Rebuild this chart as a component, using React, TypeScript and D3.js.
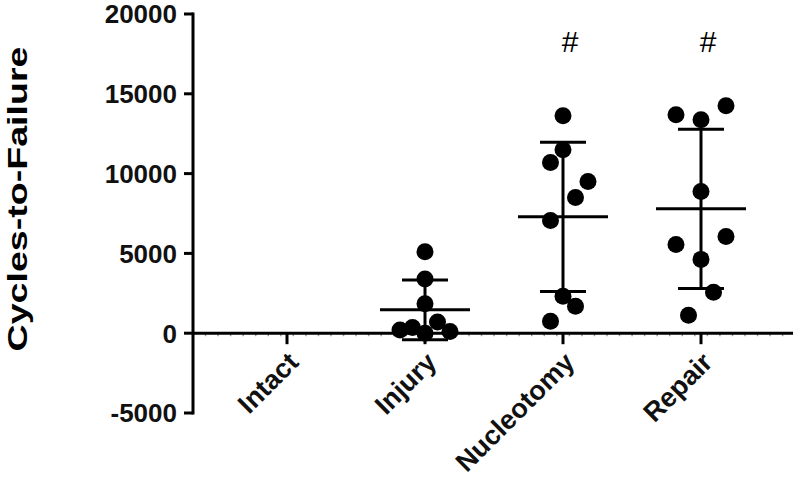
import React from "react";
import * as d3 from "d3";

const categories = ["Intact", "Injury", "Nucleotomy", "Repair"];

// cycles-to-failure per specimen
const intact: number[] = [];
const injury = [5100, 3400, 1850, 700, 350, 200, 100, 0];
const nucleotomy = [13625, 11500, 10690, 9500, 8500, 7060, 2310, 1690, 750];
const repair = [14250, 13690, 13375, 8875, 6060, 5560, 4625, 2560, 1125];

// scatter lane of each dot (Prism column scatter)
const intactLane: number[] = [];
const injuryLane = [0, 0, 0, 1, -1, -2, 2, 0];
const nucleotomyLane = [0, 0, -1, 2, 1, -1, 0, 1, -1];
const repairLane = [2, -2, 0, 0, 2, -2, 0, 1, -1];

const significance = ["", "", "#", "#"];
const yTicks = [-5000, 0, 5000, 10000, 15000, 20000];

const groups = [
  { name: categories[0], values: intact, lanes: intactLane, mark: significance[0] },
  { name: categories[1], values: injury, lanes: injuryLane, mark: significance[1] },
  { name: categories[2], values: nucleotomy, lanes: nucleotomyLane, mark: significance[2] },
  { name: categories[3], values: repair, lanes: repairLane, mark: significance[3] },
];

const font = "'Liberation Sans', Arial, Helvetica, sans-serif";

export default function App() {
  const width = 800;
  const height = 493;
  const axisX = 193;
  const axisEnd = 793;
  const radius = 8.5;
  const laneWidth = 12.5;

  const y = d3.scaleLinear().domain([-5000, 20000]).range([413, 14]);
  const x = d3.scalePoint<string>().domain(categories).range([287, 701]);
  const step = x.step();
  const y0 = y(0);

  const minorTicks = d3.range(axisX + step / 11, axisEnd, step / 11);

  return (
    <div style={{ position: "absolute", left: 0, top: 0 }}>
      <svg width={width} height={height} style={{ display: "block", background: "#fff" }}>
        {/* y axis title */}
        <text
          transform={`translate(27,${(14 + 360) / 2 + 12}) rotate(-90)`}
          textAnchor="middle"
          fontFamily={font}
          fontWeight="bold"
          fontSize={28}
          textLength={305}
          lengthAdjust="spacingAndGlyphs"
          fill="#000"
        >
          Cycles-to-Failure
        </text>

        {/* y axis */}
        <line x1={axisX} x2={axisX} y1={y(20000) - 1.5} y2={y(-5000) + 1.5} stroke="#000" strokeWidth={3} />
        {yTicks.map((t) => (
          <g key={t}>
            <line x1={axisX - 9} x2={axisX} y1={y(t)} y2={y(t)} stroke="#000" strokeWidth={3} />
            <text
              x={axisX - 16}
              y={y(t)}
              dy="0.36em"
              textAnchor="end"
              fontFamily={font}
              fontSize={26}
              fontWeight="bold"
              fill="#111"
            >
              {t}
            </text>
          </g>
        ))}

        {/* x axis at zero */}
        {minorTicks.map((m, i) => (
          <line key={i} x1={m} x2={m} y1={y0} y2={y0 + 3} stroke="#999" strokeWidth={1.5} />
        ))}
        <line x1={axisX} x2={axisEnd} y1={y0} y2={y0} stroke="#000" strokeWidth={3} />
        {categories.map((c) => (
          <g key={c}>
            <line x1={x(c)} x2={x(c)} y1={y0} y2={y0 + 11} stroke="#000" strokeWidth={3} />
            <text
              transform={`translate(${(x(c) as number) + 13},${364}) rotate(-45)`}
              textAnchor="end"
              fontFamily={font}
              fontSize={27}
              fontWeight="bold"
              fill="#111"
            >
              {c}
            </text>
          </g>
        ))}

        {/* dots, mean and SD */}
        {groups.map((g) => {
          const cx = x(g.name) as number;
          if (g.values.length === 0) return null;
          const mean = d3.mean(g.values) as number;
          const sd = d3.deviation(g.values) as number;
          return (
            <g key={g.name}>
              {g.values.map((v, i) => (
                <circle key={i} cx={cx + g.lanes[i] * laneWidth} cy={y(v)} r={radius} fill="#000" />
              ))}
              <line x1={cx} x2={cx} y1={y(mean + sd)} y2={y(mean - sd)} stroke="#000" strokeWidth={3} />
              <line x1={cx - 45} x2={cx + 45} y1={y(mean)} y2={y(mean)} stroke="#000" strokeWidth={3} />
              <line x1={cx - 23} x2={cx + 23} y1={y(mean + sd)} y2={y(mean + sd)} stroke="#000" strokeWidth={3} />
              <line x1={cx - 23} x2={cx + 23} y1={y(mean - sd)} y2={y(mean - sd)} stroke="#000" strokeWidth={3} />
            </g>
          );
        })}

        {/* significance marks */}
        {groups.map((g) =>
          g.mark ? (
            <text
              key={g.name}
              x={(x(g.name) as number) + 7}
              y={y(17600)}
              textAnchor="middle"
              fontFamily={font}
              fontSize={30}
              fill="#000"
            >
              {g.mark}
            </text>
          ) : null
        )}
      </svg>
    </div>
  );
}
